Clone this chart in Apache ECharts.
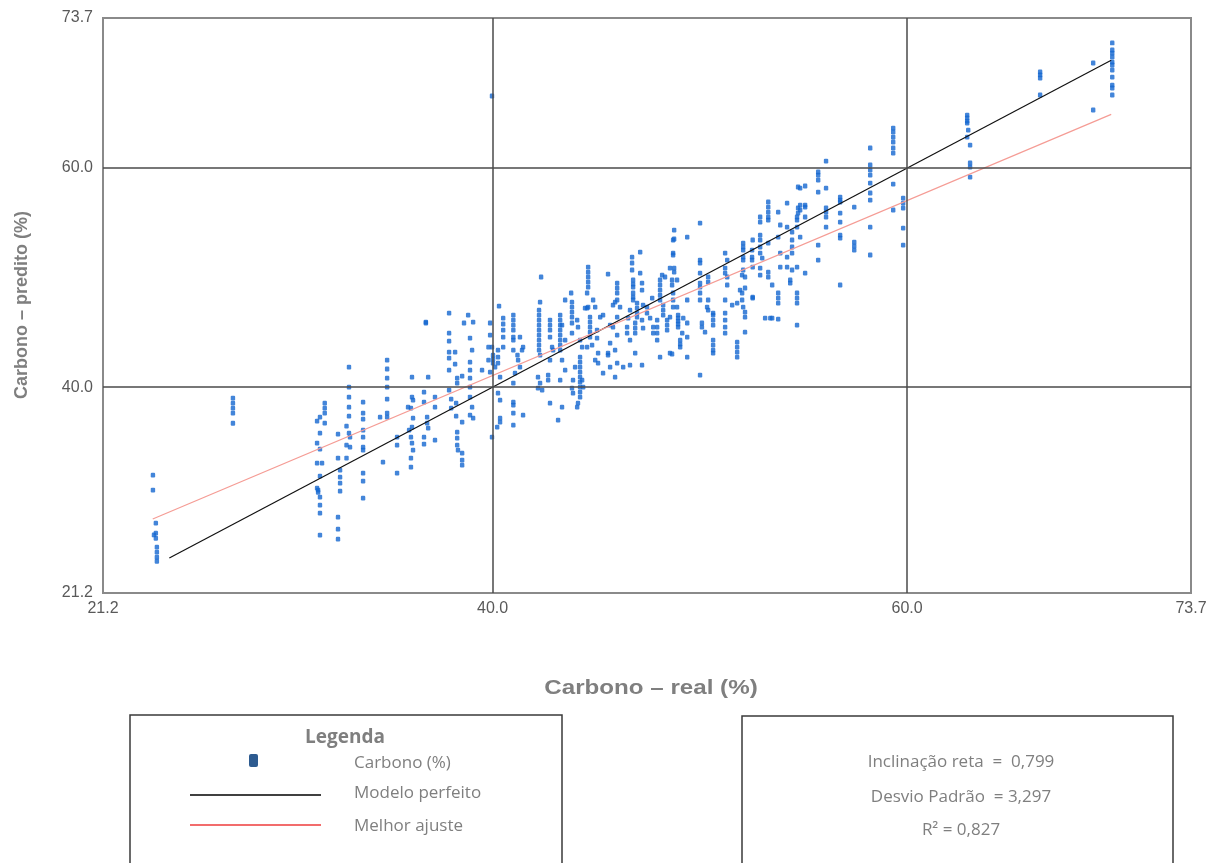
<!DOCTYPE html>
<html>
<head>
<meta charset="utf-8">
<script src="https://cdn.jsdelivr.net/npm/echarts@6/dist/echarts.min.js"></script>
<style>
html,body{margin:0;padding:0;background:#fff;}
#chart{width:1221px;height:863px;}
</style>
</head>
<body>
<div id="chart"></div>
<script>
// Axis range and tick labels
const axisMin = 21.2;
const axisMax = 73.7;
const tickValues = [21.2, 40.0, 60.0, 73.7];
const gridValues = [40, 60];

// Scatter data, grouped in vertical columns: [x, [y values]]
const colsLow = [
  [23.61, [31.96, 30.6]],
  [23.66, [26.5]],
  [23.75, [27.58, 26.67, 26.2]],
  [23.8, [25.39, 24.93, 24.48, 24.1]],
  [27.47, [39.0, 38.54, 38.08, 37.63, 36.7]],
  [31.53, [36.9, 34.89, 33.06, 30.78]],
  [31.58, [30.6, 30.4]],
  [31.67, [37.26, 35.8, 34.34, 31.87, 29.96, 29.22, 28.49, 26.49]],
  [31.77, [33.06]],
  [31.9, [38.54, 38.08, 37.63, 36.71]],
  [32.54, [35.71, 33.52, 28.13, 27.03, 26.12]],
  [32.64, [32.42, 31.78, 31.23, 30.5]],
  [32.95, [36.44, 34.7, 33.52]],
  [33.07, [41.83, 40.0, 39.09, 38.17, 37.35, 35.8]],
  [33.12, [35.43, 34.52]],
  [33.75, [38.63, 37.63, 37.08, 36.07, 35.43, 34.52, 34.25, 32.15, 31.42, 29.86]],
  [34.57, [37.26]],
  [34.71, [33.15]],
  [34.91, [42.47, 41.65, 40.82, 40.0, 38.91, 37.63, 37.26]]
];
const colsMidLeft = [
  [35.39, [35.43, 34.7, 32.15]],
  [35.92, [38.17]],
  [35.97, [36.07]],
  [36.06, [38.08, 35.43, 33.52, 32.7]],
  [36.11, [40.91, 39.09, 36.35, 34.89]],
  [36.16, [38.81, 37.17, 34.25]],
  [36.69, [39.54, 38.63, 35.43, 34.8]],
  [36.78, [45.94, 45.85]],
  [36.84, [37.26, 36.71]],
  [36.89, [40.91, 36.26]],
  [37.22, [39.09, 38.17, 35.16]],
  [37.9, [46.76, 44.93, 44.2, 43.2, 42.65, 41.55, 39.73]],
  [38.0, [38.91, 38.08]],
  [38.19, [43.2, 42.1]],
  [38.24, [38.54, 37.35]],
  [38.29, [40.82, 40.37, 35.89, 35.34, 34.7]],
  [38.33, [34.25]],
  [38.53, [41.01, 36.81, 33.97, 33.34, 32.88]],
  [38.62, [45.85]],
  [38.82, [46.58]],
  [38.91, [44.48, 42.28, 41.55, 40.82, 40.0, 39.09, 37.44]],
  [39.01, [43.38, 38.17]],
  [39.06, [45.94, 37.17]],
  [39.49, [41.55]],
  [39.8, [43.65, 42.47]],
  [39.88, [45.85, 44.75, 41.37]],
  [39.97, [43.65, 35.43]],
  [40.02, [42.92, 42.56, 42.19]],
  [40.12, [41.83]],
  [40.22, [36.35]],
  [40.26, [43.38, 42.74, 42.19, 39.45]],
  [40.31, [47.4]],
  [40.36, [40.91, 38.81, 37.17, 36.81]],
  [40.51, [46.3, 45.76, 45.21, 44.57, 43.65]]
];
const colsMid = [
  [41.0, [46.58, 46.12, 45.66, 45.21, 44.57, 44.29, 43.38, 40.37, 38.63, 38.36, 37.63, 36.53]],
  [41.08, [41.28]],
  [41.2, [42.92]],
  [41.23, [42.47]],
  [41.32, [44.57, 41.83]],
  [41.42, [43.38]],
  [41.47, [43.65, 37.44]],
  [42.19, [40.91, 39.91]],
  [42.24, [47.03, 46.58, 46.12, 45.66, 45.21, 44.75, 44.29, 43.84, 43.38]],
  [42.29, [47.76, 42.92, 40.37]],
  [42.34, [50.05]],
  [42.39, [39.73]],
  [42.68, [41.1, 40.64]],
  [42.77, [46.12, 45.66, 45.21, 44.57, 42.47, 38.54]],
  [42.87, [43.65]],
  [42.92, [43.38]],
  [43.16, [36.99]],
  [43.26, [46.58, 46.12, 45.66, 45.21, 44.75, 44.29, 43.84, 43.38, 40.64]],
  [43.35, [45.66, 42.47, 38.17]],
  [43.5, [47.95, 44.29, 41.55]],
  [43.79, [48.59]],
  [43.83, [47.76, 47.31, 46.85, 46.39, 45.85, 44.93, 39.91]],
  [43.88, [40.64, 39.45]],
  [43.98, [41.83]],
  [44.08, [46.12, 38.17]],
  [44.12, [45.48, 38.54]],
  [44.22, [44.29, 42.74, 42.28, 41.83, 41.37, 40.91, 40.46, 40.0, 39.54, 39.09]],
  [44.32, [43.65, 40.64]],
  [44.37, [40.0]],
  [44.46, [47.21]],
  [44.56, [48.59, 47.21, 43.65]],
  [44.61, [50.96, 50.5, 50.05, 49.59, 49.13, 47.31]],
  [44.7, [46.39, 45.94, 45.48, 45.02, 44.57]],
  [44.8, [43.84]],
  [44.85, [47.95]],
  [44.95, [47.31, 42.47]],
  [45.04, [45.21, 44.48]],
  [45.09, [43.11, 42.19]],
  [45.19, [46.39]],
  [45.33, [46.58, 41.28]],
  [45.57, [50.32, 43.11, 42.92]],
  [45.67, [45.66, 44.02, 41.83]],
  [45.81, [47.49, 45.48]],
  [45.91, [47.76, 43.38, 40.91]],
  [46.01, [49.5, 49.05, 48.59, 47.95, 46.39, 44.75, 42.19]],
  [46.15, [47.31]],
  [46.3, [41.83]],
  [46.49, [45.48, 44.93]],
  [46.54, [46.3]],
  [46.63, [47.03, 44.29, 42.01]],
  [46.73, [51.87, 51.33, 50.69]],
  [46.78, [49.78, 49.41, 49.13, 48.59, 48.22, 47.95]],
  [46.88, [45.85, 45.39, 44.93, 43.11]],
  [46.97, [47.67, 47.21, 46.76, 46.39]]
];
const colsMidRight = [
  [47.12, [52.33, 50.41]],
  [47.21, [49.5, 48.86, 46.12, 42.01]],
  [47.26, [47.49, 45.39]],
  [47.45, [47.31, 46.76]],
  [47.6, [46.3]],
  [47.7, [48.13]],
  [47.75, [45.48, 44.93]],
  [47.94, [46.12, 45.48, 44.93, 44.29]],
  [48.08, [49.78, 49.32, 48.86, 48.4, 47.95, 42.74]],
  [48.18, [50.23]],
  [48.23, [47.49, 47.03, 46.58]],
  [48.32, [50.05]],
  [48.42, [46.12, 45.66, 45.21]],
  [48.56, [50.87, 46.39, 43.11]],
  [48.66, [49.78, 49.32, 43.02]],
  [48.71, [53.43, 52.24, 52.06, 48.59, 47.95, 47.31]],
  [48.76, [54.34, 53.52, 50.87, 50.5]],
  [48.9, [49.78, 47.31]],
  [48.95, [46.58, 46.3, 46.03, 45.76, 45.48]],
  [49.05, [44.29, 43.93, 43.65]],
  [49.15, [44.93]],
  [49.2, [46.3]],
  [49.39, [53.7, 47.95, 45.85, 44.57, 42.74]],
  [50.01, [54.98, 51.6, 51.33, 50.41, 49.5, 49.13, 48.59, 47.95, 41.1]],
  [50.1, [45.85, 45.48]],
  [50.25, [45.02]],
  [50.35, [47.31]],
  [50.4, [50.05, 49.59, 47.95, 47.03]],
  [50.64, [46.76, 46.58, 46.12, 45.66, 44.29, 43.84, 43.38, 43.11]],
  [51.22, [52.24, 50.87, 50.41, 47.95, 46.76, 46.12, 45.48, 44.93]],
  [51.32, [51.6, 50.05, 49.32]],
  [51.56, [47.49]],
  [51.8, [47.67, 44.11, 43.65, 43.2, 42.74]],
  [51.94, [48.86]],
  [52.04, [50.23, 48.59, 47.95]],
  [52.09, [53.15, 52.79, 52.51, 51.87, 51.6, 50.69, 47.31]],
  [52.18, [50.05, 49.05, 46.85, 46.39, 45.02]],
  [52.52, [52.51, 51.87, 51.6]],
  [52.55, [53.43, 50.96, 48.22, 48.13]]
];
const colsHigh = [
  [52.91, [55.53, 55.07, 53.88, 53.43, 52.79, 52.24, 50.87, 50.23]],
  [53.01, [51.78]],
  [53.15, [46.3]],
  [53.3, [56.9, 56.44, 55.98, 55.53, 55.25, 53.15, 50.5, 50.05]],
  [53.4, [46.3]],
  [53.49, [49.32, 46.3]],
  [53.78, [55.98, 53.7, 48.59, 48.13, 47.67, 46.21]],
  [53.88, [54.8, 52.24, 50.96]],
  [54.21, [56.8, 54.61, 51.87, 50.96]],
  [54.36, [49.78, 49.5]],
  [54.45, [54.16, 53.43, 52.79, 52.24, 50.69]],
  [54.69, [55.53, 55.25, 54.61, 50.96, 48.59, 48.13, 47.67, 45.66]],
  [54.74, [58.27, 56.35, 55.89]],
  [54.84, [58.17, 56.62, 56.17, 53.7]],
  [55.08, [58.36, 56.62, 56.44, 55.53, 50.41]],
  [55.71, [59.64, 59.36, 58.91, 57.81, 52.97, 51.6]],
  [56.09, [60.64, 58.17, 56.35, 55.98, 55.53, 54.61]],
  [56.77, [57.35, 57.08, 56.9, 55.89, 55.07, 53.88, 53.61, 49.32]],
  [57.45, [56.44, 53.24, 52.88, 52.51]],
  [58.22, [61.83, 60.28, 59.82, 59.36, 58.63, 57.72, 57.08, 54.61, 52.06]],
  [59.33, [63.65, 63.29, 62.83, 62.38, 61.83, 61.37, 58.54, 56.17]],
  [59.81, [57.26, 56.8, 56.35, 54.52, 52.97]],
  [62.9, [64.84, 64.57, 64.29, 64.11, 62.83]],
  [62.95, [63.47]],
  [63.04, [62.1, 60.46, 60.09, 59.18]],
  [66.42, [68.77, 68.5, 68.22, 66.67]],
  [68.98, [69.59, 65.3]],
  [69.9, [71.42, 70.78, 70.5, 70.14, 69.68, 69.41, 68.95, 68.31, 67.58, 67.31, 66.67]]
];
const outliers = [[39.97, 66.58]];

// Reference lines
const perfectLine = [[24.4, 24.4], [69.85, 69.85]];
const fitLine = [[23.6, 27.95], [69.85, 64.9]];

// Statistics text
const statsLines = ['Inclinação reta  =  0,799', 'Desvio Padrão  = 3,297', 'R² = 0,827'];
const legendLabels = ['Carbono (%)', 'Modelo perfeito', 'Melhor ajuste'];

const points = []
  .concat(colsLow, colsMidLeft, colsMid, colsMidRight, colsHigh)
  .flatMap(c => c[1].map(y => [c[0], y]))
  .concat(outliers);

const chart = echarts.init(document.getElementById('chart'), null, {renderer: 'canvas'});
const labelStyle = {color: '#595959', fontSize: 16, fontFamily: 'Liberation Sans, Arial, sans-serif'};
const nameColor = '#7f7f7f';
const lightText = {fill: '#7f7f7f', fontSize: 17, fontFamily: 'Open Sans, sans-serif'};

const option = {
  animation: false,
  backgroundColor: '#ffffff',
  grid: {left: 103, right: 30, top: 18, bottom: 270, show: true, borderColor: '#8a8a8a', borderWidth: 2, backgroundColor: 'transparent'},
  xAxis: {
    type: 'value', min: axisMin, max: axisMax,
    axisLine: {show: false}, axisTick: {show: false}, splitLine: {show: false},
    axisLabel: Object.assign({customValues: tickValues, margin: 8, formatter: v => v.toFixed(1), showMinLabel: true, showMaxLabel: true}, labelStyle)
  },
  yAxis: {
    type: 'value', min: axisMin, max: axisMax,
    axisLine: {show: false}, axisTick: {show: false}, splitLine: {show: false},
    axisLabel: Object.assign({customValues: tickValues, margin: 10, formatter: v => v.toFixed(1), showMinLabel: true, showMaxLabel: true}, labelStyle)
  },
  series: [
    {
      type: 'line', data: [], z: 1, silent: true,
      markLine: {
        silent: true, symbol: 'none', animation: false,
        label: {show: false},
        lineStyle: {color: '#4a4a4a', width: 1.5, type: 'solid'},
        data: gridValues.map(v => ({xAxis: v})).concat(gridValues.map(v => ({yAxis: v})))
      }
    },
    {
      name: 'Carbono (%)', type: 'scatter', data: points, z: 3,
      symbol: 'roundRect', symbolSize: [4.4, 4.8],
      itemStyle: {color: '#1466cf'}
    },
    {
      name: 'Modelo perfeito', type: 'line', data: perfectLine, z: 4, showSymbol: false, symbol: 'none',
      lineStyle: {color: '#111111', width: 1.2}
    },
    {
      name: 'Melhor ajuste', type: 'line', data: fitLine, z: 4, showSymbol: false, symbol: 'none',
      lineStyle: {color: '#f59c95', width: 1.2}
    }
  ],
  graphic: [
    {type: 'text', x: 22, y: 305, rotation: Math.PI / 2,
      style: {text: 'Carbono – predito (%)', fill: nameColor, fontSize: 18, fontWeight: 'bold', fontFamily: 'Liberation Sans, Arial, sans-serif', align: 'center', verticalAlign: 'middle'}},
    {type: 'text', x: 651, y: 688, scaleX: 1.15,
      style: {text: 'Carbono – real (%)', fill: nameColor, fontSize: 21, fontWeight: 'bold', fontFamily: 'Liberation Sans, Arial, sans-serif', align: 'center', verticalAlign: 'middle'}},
    // legend box
    {type: 'rect', shape: {x: 130, y: 715, width: 432, height: 170},
      style: {fill: 'none', stroke: '#3a3a3a', lineWidth: 1.5}},
    {type: 'text', x: 345, y: 738,
      style: {text: 'Legenda', fill: nameColor, fontSize: 19, fontWeight: 'bold', fontFamily: 'Open Sans, sans-serif', align: 'center', verticalAlign: 'middle'}},
    {type: 'rect', shape: {x: 249, y: 754, width: 9, height: 13, r: 2},
      style: {fill: '#2d5b90'}},
    {type: 'text', x: 354, y: 763,
      style: Object.assign({text: legendLabels[0], align: 'left', verticalAlign: 'middle'}, lightText)},
    {type: 'line', shape: {x1: 190, y1: 795, x2: 321, y2: 795},
      style: {stroke: '#000000', lineWidth: 1.6}},
    {type: 'text', x: 354, y: 793,
      style: Object.assign({text: legendLabels[1], align: 'left', verticalAlign: 'middle'}, lightText)},
    {type: 'line', shape: {x1: 190, y1: 825, x2: 321, y2: 825},
      style: {stroke: '#ee3b3b', lineWidth: 1.6}},
    {type: 'text', x: 354, y: 826,
      style: Object.assign({text: legendLabels[2], align: 'left', verticalAlign: 'middle'}, lightText)},
    // stats box
    {type: 'rect', shape: {x: 742, y: 716, width: 431, height: 170},
      style: {fill: 'none', stroke: '#3a3a3a', lineWidth: 1.5}},
    {type: 'text', x: 961, y: 762,
      style: Object.assign({text: statsLines[0], align: 'center', verticalAlign: 'middle'}, lightText)},
    {type: 'text', x: 961, y: 797,
      style: Object.assign({text: statsLines[1], align: 'center', verticalAlign: 'middle'}, lightText)},
    {type: 'text', x: 961, y: 830,
      style: Object.assign({text: statsLines[2], align: 'center', verticalAlign: 'middle'}, lightText)}
  ]
};
chart.setOption(option);
</script>
</body>
</html>
